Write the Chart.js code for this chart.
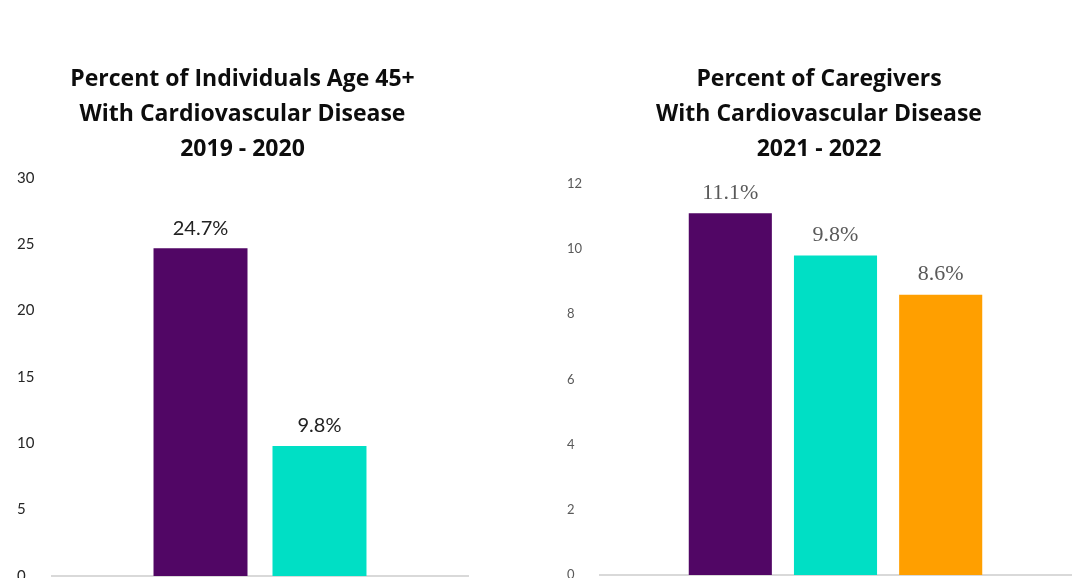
<!DOCTYPE html>
<html>
<head>
<meta charset="utf-8">
<script src="https://cdn.jsdelivr.net/npm/chart.js@4.4.1/dist/chart.umd.min.js"></script>
<style>
html, body { margin: 0; padding: 0; background: #fff; overflow: hidden; }
#wrap { position: relative; width: 1073px; height: 578px; overflow: hidden; }
.box { position: absolute; top: 0; }
</style>
</head>
<body>
<div id="wrap">
  <div class="box" style="left:0"><canvas id="leftChart" width="536" height="600"></canvas></div>
  <div class="box" style="left:536px"><canvas id="rightChart" width="537" height="600"></canvas></div>
</div>
<script>
// left chart: individuals age 45+
const leftTitle = ['Percent of Individuals Age 45+', 'With Cardiovascular Disease', '2019 - 2020'];
const leftSeries = ['Series 1', 'Series 2'];
const leftValues = [24.7, 9.8];
const leftColors = ['#510665', '#00dfc5'];
const leftMax = 30;
const leftStep = 5;

// right chart: caregivers
const rightTitle = ['Percent of Caregivers', 'With Cardiovascular Disease', '2021 - 2022'];
const rightSeries = ['Series 1', 'Series 2', 'Series 3'];
const rightValues = [11.1, 9.8, 8.6];
const rightColors = ['#510665', '#00dfc5', '#ff9f00'];
const rightMax = 12;
const rightStep = 2;

const valueLabels = {
    id: 'valueLabels',
    afterDatasetsDraw(chart, args, opts) {
        const ctx = chart.ctx;
        ctx.save();
        ctx.font = opts.font;
        ctx.fillStyle = opts.color;
        ctx.textAlign = 'center';
        ctx.textBaseline = 'middle';
        chart.data.datasets.forEach((ds, i) => {
            chart.getDatasetMeta(i).data.forEach((bar, j) => {
                ctx.fillText(ds.data[j].toFixed(1) + '%', bar.x, bar.y - opts.offset);
            });
        });
        ctx.restore();
    }
};

function makeChart(id, cfg) {
    const datasets = cfg.series.map((name, i) => ({
        label: name,
        data: [cfg.values[i]],
        backgroundColor: cfg.colors[i],
        borderWidth: 0,
        categoryPercentage: cfg.catPct,
        barPercentage: 0.79
    }));

    return new Chart(document.getElementById(id), {
        type: 'bar',
        data: { labels: [''], datasets: datasets },
        plugins: [valueLabels],
        options: {
            responsive: false,
            animation: false,
            layout: { padding: cfg.padding },
            scales: {
                x: {
                    ticks: { display: false },
                    grid: { display: false, drawTicks: false },
                    border: { display: true, color: '#d9d9d9', width: 2 }
                },
                y: {
                    min: 0,
                    max: cfg.max,
                    grid: { display: false, drawTicks: false },
                    border: { display: false },
                    ticks: {
                        stepSize: cfg.step,
                        crossAlign: 'far',
                        padding: 0,
                        color: cfg.tickColor,
                        font: { family: 'Lato', size: cfg.tickSize }
                    },
                    afterFit(scale) { scale.width = cfg.axisWidth; }
                }
            },
            plugins: {
                legend: { display: false },
                tooltip: { enabled: false },
                title: {
                    display: true,
                    text: cfg.title,
                    color: '#0d0d0d',
                    font: { family: '"Open Sans"', size: 23, weight: 'bold', lineHeight: 1.52 },
                    padding: { top: 62, bottom: cfg.titleGap }
                },
                valueLabels: cfg.labels
            }
        }
    });
}

makeChart('leftChart', {
    title: leftTitle, series: leftSeries, values: leftValues, colors: leftColors,
    max: leftMax, step: leftStep, catPct: 0.572,
    padding: { left: 17, right: 68, top: 0, bottom: 24 },
    axisWidth: 35, titleGap: 11,
    tickColor: '#262626', tickSize: 15,
    labels: { font: '20px Lato', color: '#222222', offset: 20 }
});

makeChart('rightChart', {
    title: rightTitle, series: rightSeries, values: rightValues, colors: rightColors,
    max: rightMax, step: rightStep, catPct: 0.670,
    padding: { left: 31, right: 2, top: 0, bottom: 25 },
    axisWidth: 33, titleGap: 17,
    tickColor: '#595959', tickSize: 13,
    labels: { font: '22px "Liberation Serif"', color: '#595959', offset: 20 }
});
</script>
</body>
</html>
